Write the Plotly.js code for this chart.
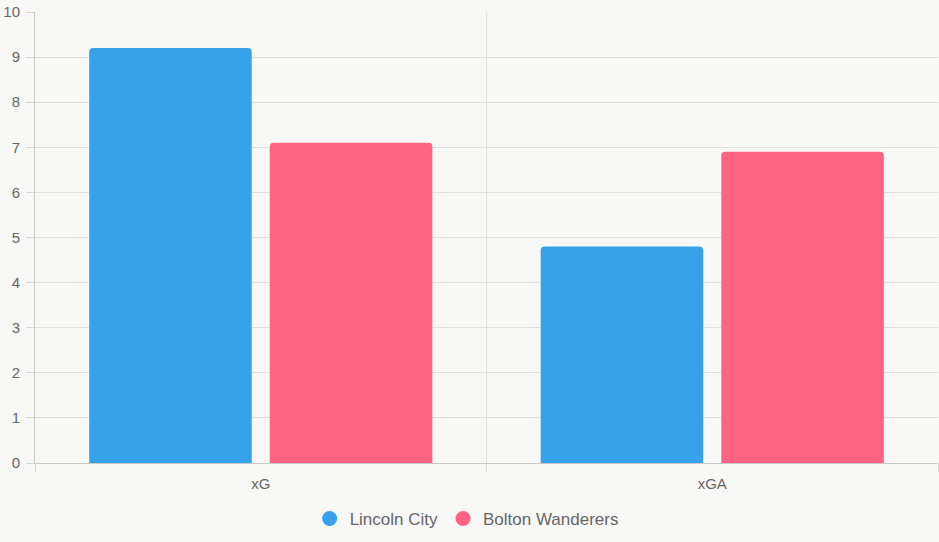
<!DOCTYPE html>
<html>
<head>
<meta charset="utf-8">
<script src="https://cdn.plot.ly/plotly-3.0.1.min.js"></script>
<style>html,body{margin:0;padding:0;background:#f8f8f6;}#chart{width:939px;height:542px;}</style>
</head>
<body>
<div id="chart"></div>
<script>
const categories = ["xG", "xGA"];
const seriesNames = ["Lincoln City", "Bolton Wanderers"];
const lincolnValues = [9.2, 4.8];
const boltonValues = [7.1, 6.9];
const seriesColors = ["#36a2eb", "#ff6384"];
const yTicks = [0, 1, 2, 3, 4, 5, 6, 7, 8, 9, 10];

const seriesValues = [lincolnValues, boltonValues];
const traces = [];
seriesNames.forEach((name, i) => {
  traces.push({
    type: "bar", x: categories, y: seriesValues[i], name: name,
    marker: {color: seriesColors[i], cornerradius: 4},
    showlegend: false, hoverinfo: "x+y+name"
  });
});
seriesNames.forEach((name, i) => {
  traces.push({
    type: "scatter", mode: "markers", x: [null], y: [null], name: name,
    marker: {color: seriesColors[i], symbol: "circle", size: 15},
    showlegend: true
  });
});

const layout = {
  width: 939, height: 542,
  margin: {l: 35, r: 1, t: 12, b: 79},
  paper_bgcolor: "#f8f8f6", plot_bgcolor: "#f8f8f6",
  font: {family: "Liberation Sans, Arial, sans-serif", color: "#666", size: 15},
  barmode: "group", bargap: 0.2, bargroupgap: 0.1,
  xaxis: {
    type: "category", tickson: "boundaries", ticks: "outside", ticklen: 8,
    tickcolor: "#d6d6d4", showgrid: true, gridcolor: "#dfdfdd",
    showline: true, linecolor: "#c9c9c7", linewidth: 1,
    tickfont: {size: 15, color: "#666"}, ticklabelstandoff: 7, zeroline: false, fixedrange: true
  },
  yaxis: {
    range: [0, 10], tickvals: yTicks, ticks: "outside", ticklen: 8,
    tickcolor: "#d6d6d4", showgrid: true, gridcolor: "#dfdfdd",
    showline: true, linecolor: "#c9c9c7", linewidth: 1, zeroline: false,
    tickfont: {size: 15, color: "#666"}, ticklabelstandoff: 3, fixedrange: true
  },
  legend: {
    orientation: "h", x: 0.478, xanchor: "center", y: -0.124, yanchor: "middle",
    font: {size: 17, color: "#666"}, bgcolor: "rgba(0,0,0,0)", itemwidth: 30
  },
  showlegend: true
};

Plotly.newPlot("chart", traces, layout, {displayModeBar: false, staticPlot: true});
</script>
</body>
</html>
